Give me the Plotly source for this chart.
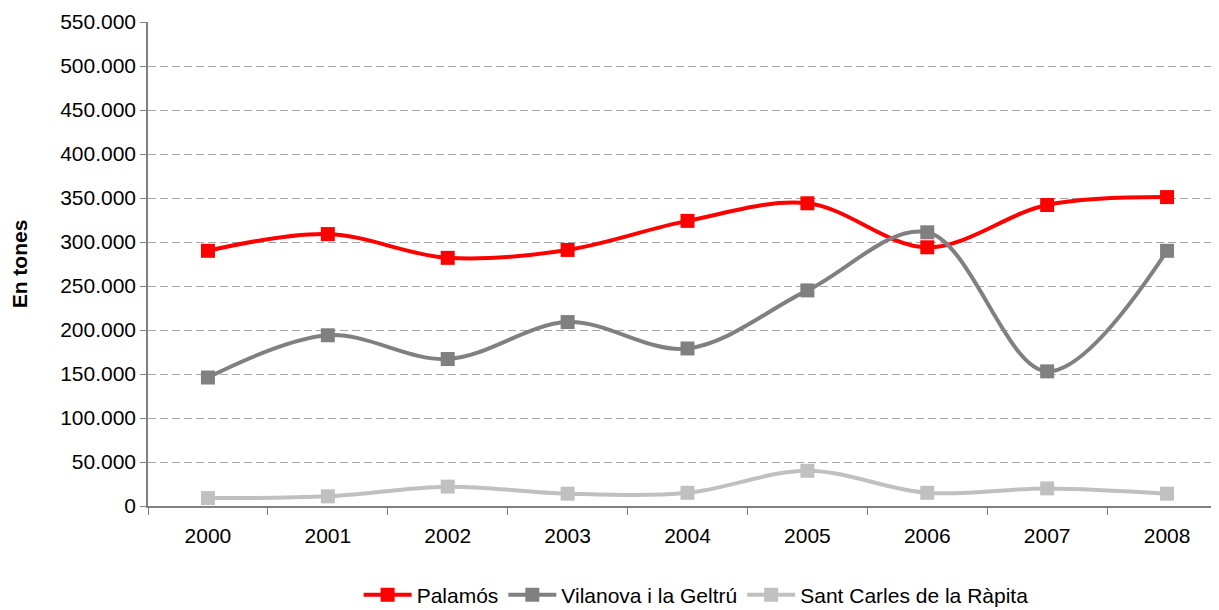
import plotly.graph_objects as go

years = ["2000", "2001", "2002", "2003", "2004", "2005", "2006", "2007", "2008"]
palamos = [290000, 309000, 282000, 291000, 324000, 344000, 294000, 342000, 351000]
vilanova = [146000, 194000, 167000, 209000, 179000, 245000, 311000, 153000, 290000]
sant_carles = [9000, 11000, 22000, 14000, 15000, 40000, 15000, 20000, 14000]
y_ticks = list(range(0, 550001, 50000))

series = [
    ("Palamós", palamos, "#FF0000"),
    ("Vilanova i la Geltrú", vilanova, "#808080"),
    ("Sant Carles de la Ràpita", sant_carles, "#C0C0C0"),
]

fig = go.Figure()
for name, vals, col in series:
    fig.add_trace(go.Scatter(
        x=years, y=vals, name=name, mode="lines+markers",
        line=dict(color=col, width=4, shape="spline", smoothing=1.0),
        marker=dict(symbol="square", size=14, color=col),
    ))

fig.update_layout(
    width=1219, height=610,
    margin=dict(l=140, r=0, t=14, b=112),
    plot_bgcolor="white", paper_bgcolor="white",
    separators=",.",
    font=dict(family="Liberation Sans, Arial", size=21, color="black"),
    showlegend=True,
    legend=dict(orientation="h", x=0.508, xanchor="center", y=-0.184, yanchor="middle",
                font=dict(size=21), traceorder="normal", itemwidth=48),
    xaxis=dict(
        type="category", range=[-0.5, 8.5],
        showline=True, linecolor="#808080", linewidth=1.5,
        ticks="outside", tickson="boundaries", ticklen=7, tickcolor="#808080",
        showgrid=False, tickfont=dict(size=21), ticklabelstandoff=10,
    ),
    yaxis=dict(
        range=[0, 550000], tickvals=y_ticks, tickformat=",d",
        showline=True, linecolor="#808080", linewidth=1.5,
        ticks="outside", ticklen=6, tickcolor="#808080",
        showgrid=True, gridcolor="#a6a6a6", griddash="8px,4px", gridwidth=1,
        zeroline=False, tickfont=dict(size=21),
        title=dict(text="<b>En tones</b>", font=dict(size=21), standoff=30),
    ),
)

fig.write_html("out.html")
